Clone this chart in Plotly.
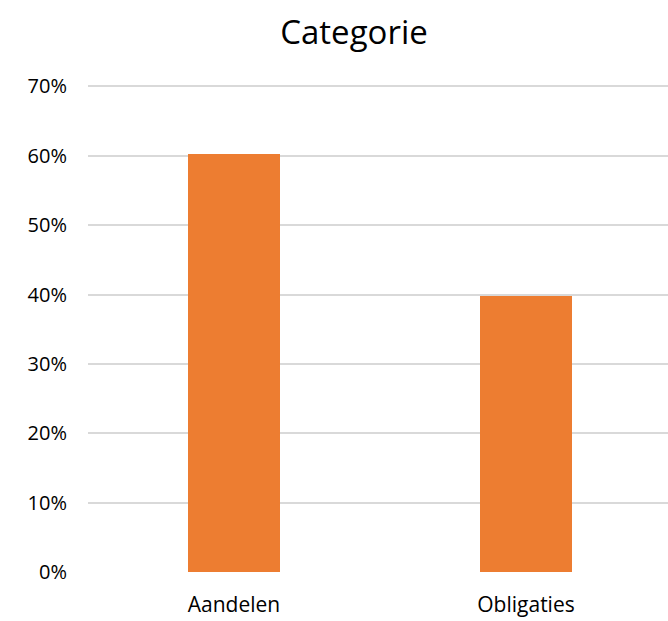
import plotly.graph_objects as go

categories = ["Aandelen", "Obligaties"]
values = [0.602, 0.398]
y_ticks = [0, 0.1, 0.2, 0.3, 0.4, 0.5, 0.6, 0.7]
y_tick_labels = ["0%", "10%", "20%", "30%", "40%", "50%", "60%", "70%"]
title_text = "Categorie"

W, H = 668, 621
plot_h = 486  # pixel span of 0..0.7
top_pad = 0.702
fig = go.Figure(go.Bar(x=categories, y=values, marker=dict(color="#ED7D31", line=dict(width=0)), width=0.312))

fig.update_layout(
    width=W, height=H,
    margin=dict(l=88, r=0, t=int(round(86 - (top_pad - 0.7) / 0.7 * plot_h)), b=49),
    paper_bgcolor="white", plot_bgcolor="white",
    title=dict(text=title_text, x=354 / W, xanchor="center", y=1 - 32 / H, yanchor="middle",
               font=dict(family="Open Sans", size=33, color="#000000")),
    font=dict(family="Open Sans", size=20, color="#000000"),
    showlegend=False,
    bargap=0,
)
fig.update_xaxes(range=[-0.5, 1.5 - 4 / 292], showgrid=False, showline=False, ticks="",
                 tickfont=dict(size=21), ticklabelstandoff=18)
fig.update_yaxes(range=[0, top_pad], tickvals=y_ticks, ticktext=y_tick_labels,
                 showgrid=True, gridcolor="#D9D9D9", gridwidth=1.5, zeroline=False,
                 showline=False, ticks="", tickfont=dict(size=20), ticklabelstandoff=20)

fig.write_html("out.html", config={"displayModeBar": False},
               post_script="document.body.style.margin='0';document.body.style.overflow='hidden';")
